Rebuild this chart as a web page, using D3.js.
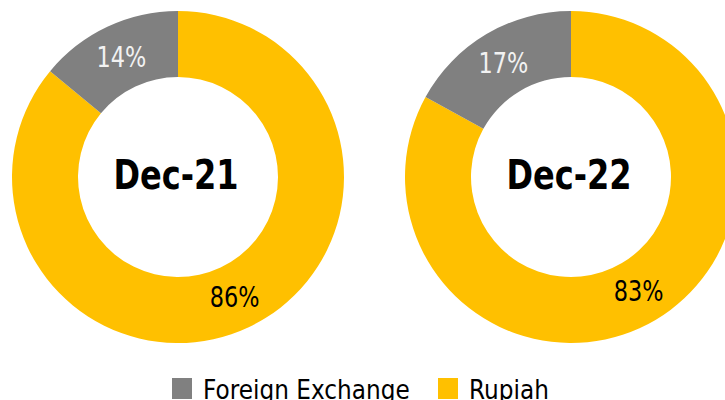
<!DOCTYPE html>
<html>
<head>
<meta charset="utf-8">
<script src="https://cdn.jsdelivr.net/npm/d3@7"></script>
<style>
  body { margin: 0; background: #fff; }
  text { font-family: "DejaVu Sans", sans-serif; }
</style>
</head>
<body>
<div class="chart"></div>
<script>
const width = 725;
const height = 400;

// data
const periods = ["Dec-21", "Dec-22"];
const categories = ["Rupiah", "Foreign Exchange"];
const rupiah = [86, 83];
const foreignExchange = [14, 17];

const legendOrder = ["Foreign Exchange", "Rupiah"];

const colors = d3.scaleOrdinal()
    .domain(categories)
    .range(["#FFC000", "#808080"]);

const labelColors = d3.scaleOrdinal()
    .domain(categories)
    .range(["#000000", "#F2F2F2"]);

const outerR = 166;
const innerR = 100;
const cy = 177;
const squeeze = 0.8; // narrow the glyphs a bit, source font is tahoma-ish

const svg = d3.select('.chart')
    .append('svg')
    .attr('width', width)
    .attr('height', height)

const x = d3.scalePoint()
    .domain(periods)
    .range([178, 571])

const pie = d3.pie()
    .sort(null)
    .value(d => d.value)

const arc = d3.arc()
    .innerRadius(innerR)
    .outerRadius(outerR)

const donuts = periods.map((p, i) => ({
    period: p,
    slices: [
        {key: "Rupiah", value: rupiah[i]},
        {key: "Foreign Exchange", value: foreignExchange[i]},
    ]
}))

const groups = svg.selectAll('.donut')
    .data(donuts)
    .enter()
    .append('g')
    .attr('class', 'donut')
    .attr('transform', d => `translate(${x(d.period)},${cy})`)

groups.selectAll('path')
    .data(d => pie(d.slices))
    .enter()
    .append('path')
    .attr('d', arc)
    .attr('fill', d => colors(d.data.key))

groups.selectAll('.pct')
    .data(d => pie(d.slices))
    .enter()
    .append('text')
    .attr('class', 'pct')
    .attr('transform', d => {
        const [cx, cyy] = arc.centroid(d);
        return `translate(${cx},${cyy + 10}) scale(${squeeze},1)`
    })
    .attr('text-anchor', 'middle')
    .attr('font-size', 28)
    .attr('fill', d => labelColors(d.data.key))
    .text(d => d.data.value + '%')

groups.append('text')
    .attr('transform', `translate(-2,12) scale(${squeeze},1)`)
    .attr('text-anchor', 'middle')
    .attr('font-size', 40)
    .attr('font-weight', 'bold')
    .attr('fill', '#000')
    .text(d => d.period)

// legend
const legendX = [172, 438];
const legend = svg.selectAll('.legend')
    .data(legendOrder)
    .enter()
    .append('g')
    .attr('class', 'legend')
    .attr('transform', (d, i) => `translate(${legendX[i]},378)`)

legend.append('rect')
    .attr('width', 20)
    .attr('height', 21)
    .attr('fill', d => colors(d))

legend.append('text')
    .attr('transform', 'translate(31,21) scale(0.86,1)')
    .attr('font-size', 27)
    .attr('fill', '#000')
    .text(d => d)
</script>
</body>
</html>
